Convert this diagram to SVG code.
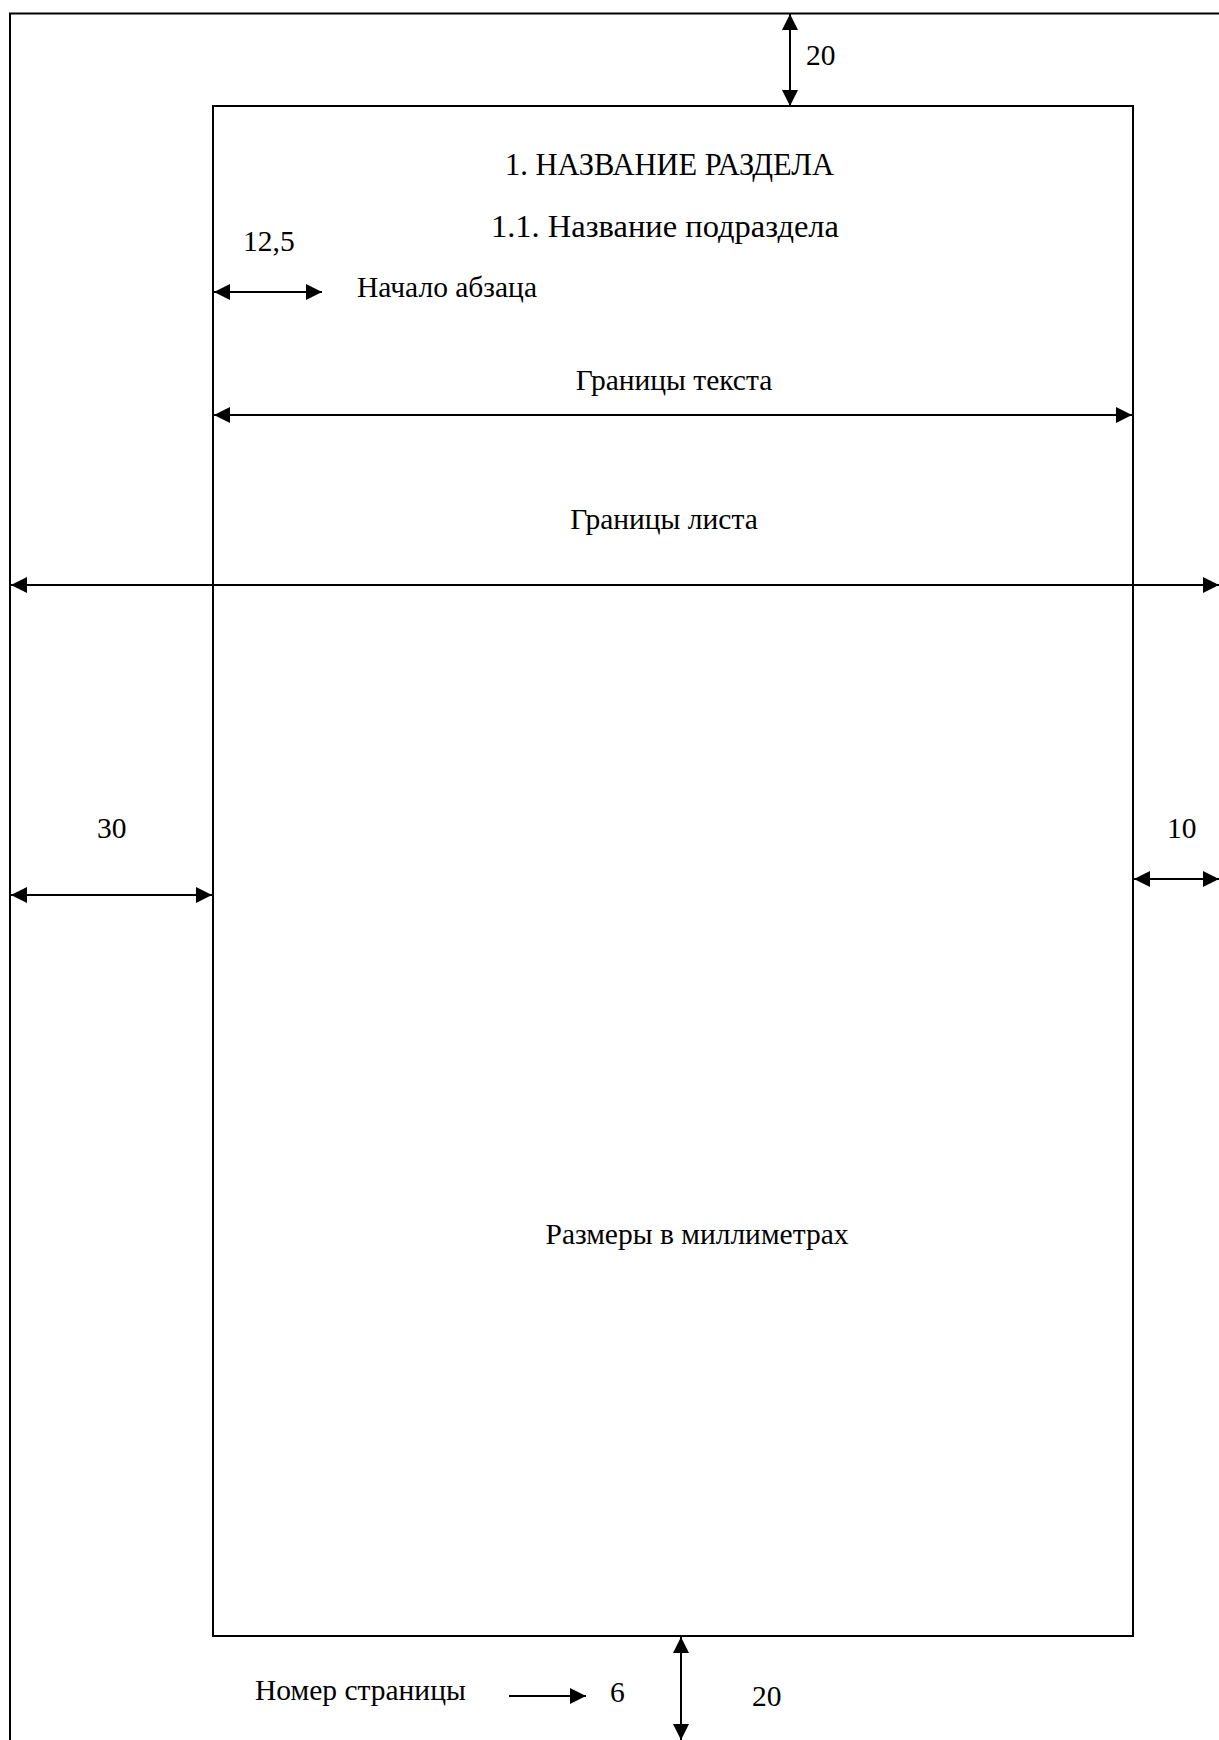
<svg xmlns="http://www.w3.org/2000/svg" width="1219" height="1740" viewBox="0 0 1219 1740">
<style>
text{font-family:"Liberation Serif","Times New Roman",serif;font-size:29.5px;fill:#000}
.h{font-size:31px}
.frame{fill:none;stroke:#000;stroke-width:2}
.dim{stroke:#000;stroke-width:2;fill:none}
</style>
<defs>
<marker id="ah" markerUnits="userSpaceOnUse" markerWidth="16" markerHeight="16" refX="16" refY="8" orient="auto-start-reverse">
<path d="M0,0 L16,8 L0,16 z" fill="#000"/>
</marker>
</defs>
<g id="sheet"><rect class="frame" x="10" y="13.5" width="1240" height="1760"/></g>
<g id="textarea"><rect class="frame" x="213" y="106" width="920" height="1530"/></g>
<g id="labels">
<text class="h" x="505" y="175" textLength="329" lengthAdjust="spacingAndGlyphs">1. НАЗВАНИЕ РАЗДЕЛА</text>
<text class="h" x="491" y="237" textLength="348" lengthAdjust="spacingAndGlyphs">1.1. Название подраздела</text>
<text x="243" y="251">12,5</text>
<text x="357" y="297">Начало абзаца</text>
<text x="674" y="390" text-anchor="middle">Границы текста</text>
<text x="664" y="529" text-anchor="middle">Границы листа</text>
<text x="806" y="65">20</text>
<text x="97" y="838">30</text>
<text x="1167" y="838">10</text>
<text x="697" y="1244" text-anchor="middle">Размеры в миллиметрах</text>
<text x="255" y="1700">Номер страницы</text>
<text x="610" y="1702">6</text>
<text x="752" y="1706">20</text>
</g>
<g id="connectors">
<line class="dim" x1="790" y1="14" x2="790" y2="106" marker-start="url(#ah)" marker-end="url(#ah)"/>
<line class="dim" x1="214" y1="292" x2="322" y2="292" marker-start="url(#ah)" marker-end="url(#ah)"/>
<line class="dim" x1="214" y1="415" x2="1132" y2="415" marker-start="url(#ah)" marker-end="url(#ah)"/>
<line class="dim" x1="11" y1="585" x2="1219" y2="585" marker-start="url(#ah)" marker-end="url(#ah)"/>
<line class="dim" x1="11" y1="895" x2="212" y2="895" marker-start="url(#ah)" marker-end="url(#ah)"/>
<line class="dim" x1="1134" y1="879" x2="1219" y2="879" marker-start="url(#ah)" marker-end="url(#ah)"/>
<line class="dim" x1="509" y1="1696" x2="586" y2="1696" marker-end="url(#ah)"/>
<line class="dim" x1="681" y1="1637" x2="681" y2="1740" marker-start="url(#ah)" marker-end="url(#ah)"/>
</g>
</svg>
